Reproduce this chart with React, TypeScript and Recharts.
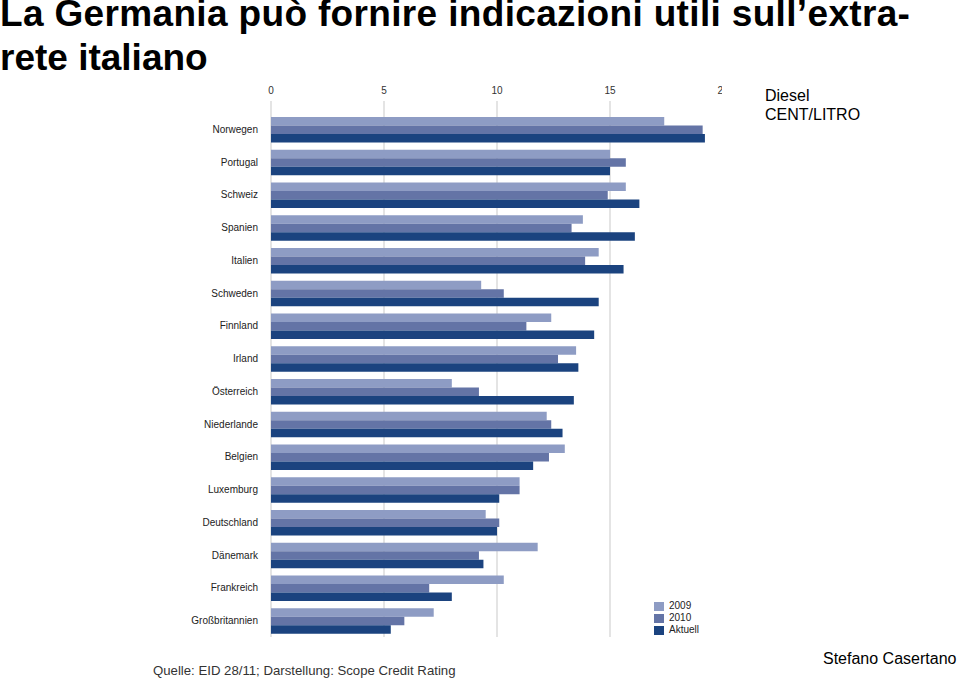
import { Bar, BarChart, CartesianGrid, XAxis, YAxis } from "recharts";

const COUNTRIES = [
  "Norwegen",
  "Portugal",
  "Schweiz",
  "Spanien",
  "Italien",
  "Schweden",
  "Finnland",
  "Irland",
  "Österreich",
  "Niederlande",
  "Belgien",
  "Luxemburg",
  "Deutschland",
  "Dänemark",
  "Frankreich",
  "Großbritannien",
];

const Y2009 = [17.4, 15.0, 15.7, 13.8, 14.5, 9.3, 12.4, 13.5, 8.0, 12.2, 13.0, 11.0, 9.5, 11.8, 10.3, 7.2];
const Y2010 = [19.1, 15.7, 14.9, 13.3, 13.9, 10.3, 11.3, 12.7, 9.2, 12.4, 12.3, 11.0, 10.1, 9.2, 7.0, 5.9];
const AKTUELL = [19.2, 15.0, 16.3, 16.1, 15.6, 14.5, 14.3, 13.6, 13.4, 12.9, 11.6, 10.1, 10.0, 9.4, 8.0, 5.3];

const X_TICKS = [0, 5, 10, 15, 20];

const SERIES = [
  { key: "y2009", label: "2009", color: "#8e9cc4" },
  { key: "y2010", label: "2010", color: "#6474a6" },
  { key: "aktuell", label: "Aktuell", color: "#1b437f" },
] as const;

const data = COUNTRIES.map((name, i) => ({
  name,
  y2009: Y2009[i],
  y2010: Y2010[i],
  aktuell: AKTUELL[i],
}));

const SANS = "'Liberation Sans', Arial, Helvetica, sans-serif";

const titleStyle = {
  position: "absolute",
  left: 0,
  fontWeight: "bold",
  fontSize: 37,
  lineHeight: "27px",
  color: "#000",
  whiteSpace: "nowrap",
} as const;

export default function App() {
  return (
    <div
      style={{
        position: "absolute",
        left: 0,
        top: 0,
        width: 960,
        height: 682,
        background: "#fff",
        overflow: "hidden",
        fontFamily: SANS,
      }}
    >
      <div style={{ ...titleStyle, top: 0, letterSpacing: 0.34 }}>
        La Germania può fornire indicazioni utili sull’extra-
      </div>
      <div style={{ ...titleStyle, top: 44 }}>rete italiano</div>

      <div
        style={{
          position: "absolute",
          left: 765,
          top: 86,
          fontSize: 16,
          lineHeight: "19px",
          color: "#000",
        }}
      >
        <div>Diesel</div>
        <div>CENT/LITRO</div>
      </div>

      <div
        style={{
          position: "absolute",
          left: 150,
          top: 78,
          width: 572,
          height: 560,
          overflow: "hidden",
        }}
      >
        <BarChart
          width={580}
          height={560}
          data={data}
          layout="vertical"
          margin={{ top: 0, right: 7, bottom: 1, left: 0 }}
          barGap={0}
          barSize={8.5}
        >
          <CartesianGrid horizontal={false} stroke="#c9c9c9" />
          <XAxis
            type="number"
            orientation="top"
            domain={[0, 20]}
            ticks={X_TICKS}
            height={23}
            axisLine={false}
            tickLine={false}
            tickMargin={1}
            tick={{ fontSize: 10, fill: "#333", fontFamily: SANS }}
          />
          <YAxis
            type="category"
            dataKey="name"
            width={121}
            axisLine={false}
            tickLine={false}
            tickMargin={7}
            padding={{ top: 12, bottom: 0 }}
            tick={{ fontSize: 10, fill: "#222", fontFamily: SANS }}
            interval={0}
          />
          {SERIES.map((s) => (
            <Bar key={s.key} dataKey={s.key} fill={s.color} isAnimationActive={false} />
          ))}
        </BarChart>
      </div>

      <div
        style={{
          position: "absolute",
          left: 654,
          top: 600,
          fontSize: 10,
          lineHeight: "12px",
          color: "#222",
        }}
      >
        {SERIES.map((s) => (
          <div key={s.key} style={{ display: "flex", alignItems: "center" }}>
            <span
              style={{
                display: "inline-block",
                width: 10,
                height: 9,
                background: s.color,
                marginRight: 5,
              }}
            />
            {s.label}
          </div>
        ))}
      </div>

      <div
        style={{
          position: "absolute",
          left: 153,
          top: 663,
          fontSize: 13.2,
          lineHeight: "16px",
          color: "#333",
          whiteSpace: "nowrap",
        }}
      >
        Quelle: EID 28/11; Darstellung: Scope Credit Rating
      </div>

      <div
        style={{
          position: "absolute",
          left: 823,
          top: 649,
          fontSize: 16,
          lineHeight: "19px",
          color: "#000",
          whiteSpace: "nowrap",
        }}
      >
        Stefano Casertano
      </div>
    </div>
  );
}
